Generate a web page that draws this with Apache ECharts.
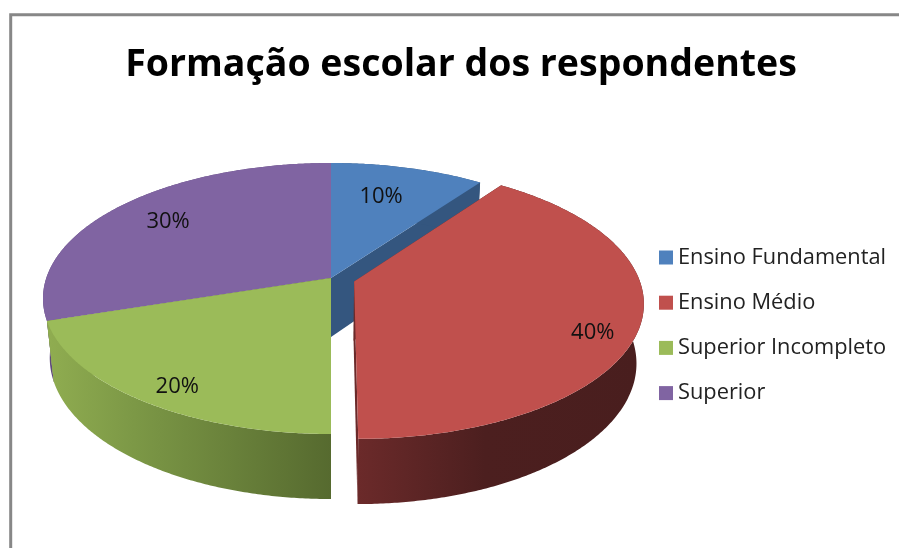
<!DOCTYPE html>
<html>
<head>
<meta charset="utf-8">
<style>html,body{margin:0;background:#fff}#chart{width:899px;height:548px}</style>
<script src="https://cdn.jsdelivr.net/npm/echarts@6/dist/echarts.min.js"></script>
</head>
<body>
<div id="chart"></div>
<script>
const categories = ['Ensino Fundamental', 'Ensino Médio', 'Superior Incompleto', 'Superior']
const shares = [10, 40, 20, 30]
const exploded = [0, 0.085, 0, 0]
const colors = ['#4f81bd', '#c0504d', '#9bbb59', '#8064a2']

// tilted disc, in pixels of the page
const cx = 331, cy = 278
const radiusX = 284.7, radiusY = 132.4, depth = 60.4
const perspY = 0.1513, perspZ = 0.0235

const total = shares.reduce((a, b) => a + b, 0)
const rad = d => d * Math.PI / 180

function project (x, y, z) {
  const w = 1 + perspY * y + perspZ * z
  return [cx + radiusX * x / w, cy + (-radiusY * y + depth * z) / w]
}

// start and end angle of slice i, clockwise from the top
function sliceAngles (i) {
  const before = shares.slice(0, i).reduce((a, b) => a + b, 0)
  return [before / total * 360, (before + shares[i]) / total * 360]
}

function rimPoints (i, z) {
  const [a0, a1] = sliceAngles(i)
  const mid = rad((a0 + a1) / 2)
  const ox = exploded[i] * Math.sin(mid), oy = exploded[i] * Math.cos(mid)
  const pts = []
  for (let a = a0; a <= a1 + 0.001; a += 0.5) {
    pts.push(project(ox + Math.sin(rad(a)), oy + Math.cos(rad(a)), z))
  }
  return pts
}

function centerPoint (i, z) {
  const [a0, a1] = sliceAngles(i)
  const mid = rad((a0 + a1) / 2)
  return project(exploded[i] * Math.sin(mid), exploded[i] * Math.cos(mid), z)
}

// radial position and small shift of each percentage label
const labelPlace = [
  { r: 0.73, dx: -8, dy: 2 },
  { r: 0.85, dx: -3, dy: 15 },
  { r: 0.85, dx: 5, dy: 7 },
  { r: 0.75, dx: -1, dy: -2 }
]

function labelPoint (i) {
  const [a0, a1] = sliceAngles(i)
  const mid = rad((a0 + a1) / 2)
  const ox = exploded[i] * Math.sin(mid), oy = exploded[i] * Math.cos(mid)
  const p = project(ox + labelPlace[i].r * Math.sin(mid), oy + labelPlace[i].r * Math.cos(mid), 0)
  return [p[0] + labelPlace[i].dx, p[1] + labelPlace[i].dy]
}

const sideFill = [
  '#34567f',
  new echarts.graphic.LinearGradient(358, 0, 640, 0, [
    { offset: 0, color: '#6b2a2a' }, { offset: 0.45, color: '#4c1f1f' }, { offset: 1, color: '#491e1e' }
  ], true),
  new echarts.graphic.LinearGradient(50, 0, 331, 0, [
    { offset: 0, color: '#8fac50' }, { offset: 0.3, color: '#7c9846' }, { offset: 1, color: '#566a2f' }
  ], true),
  '#5f4a7c'
]

function renderSlice (i) {
  return function () {
    const top = rimPoints(i, 0), bottom = rimPoints(i, 1)
    const c0 = centerPoint(i, 0), c1 = centerPoint(i, 1)
    const poly = (points, fill) => ({ type: 'polygon', shape: { points }, style: { fill } })
    return {
      type: 'group',
      children: [
        poly([c0, top[0], bottom[0], c1], sideFill[i]),
        poly([c0, top[top.length - 1], bottom[bottom.length - 1], c1], sideFill[i]),
        poly(top.concat(bottom.slice().reverse()), sideFill[i]),
        poly([c0].concat(top), colors[i]),
        {
          type: 'text',
          style: {
            text: shares[i] + '%',
            x: labelPoint(i)[0],
            y: labelPoint(i)[1],
            align: 'center',
            verticalAlign: 'middle',
            font: '22px "Open Sans"',
            fill: '#111'
          }
        }
      ]
    }
  }
}

// back slices first, exploded slice last
const drawRank = [1, 4, 3, 2]

const chart = echarts.init(document.getElementById('chart'))
chart.setOption({
  animation: false,
  backgroundColor: '#fff',
  title: {
    text: 'Formação escolar dos respondentes',
    left: 456,
    top: 41,
    textAlign: 'center',
    textStyle: { fontFamily: 'Open Sans', fontWeight: 'bold', fontSize: 37.5, color: '#000' }
  },
  legend: {
    data: categories,
    orient: 'vertical',
    left: 659,
    top: 246,
    padding: 0,
    icon: 'rect',
    itemWidth: 14,
    itemHeight: 14,
    itemGap: 22.2,
    textStyle: { fontFamily: 'Open Sans', fontSize: 21.8, lineHeight: 20, color: '#222', padding: [3, 0, 0, 0] },
    selectedMode: false
  },
  graphic: [{
    type: 'rect',
    silent: true,
    shape: { x: 10.7, y: 14.7, width: 1000, height: 700 },
    style: { fill: 'none', stroke: '#878787', lineWidth: 3 }
  }],
  series: categories.map((name, i) => ({
    type: 'custom',
    name,
    coordinateSystem: 'none',
    z: drawRank[i] + 1,
    itemStyle: { color: colors[i] },
    renderItem: renderSlice(i),
    data: [shares[i]]
  }))
})
</script>
</body>
</html>
